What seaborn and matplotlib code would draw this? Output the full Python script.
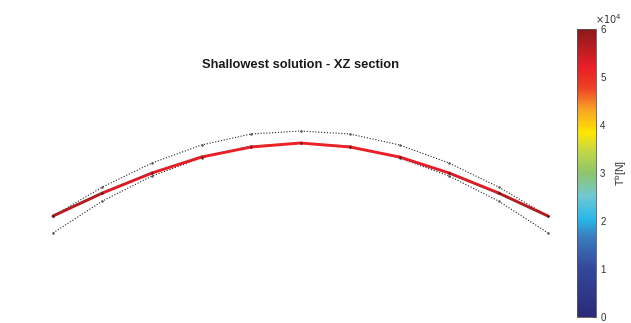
import numpy as np
import pandas as pd
import seaborn as sns
import matplotlib
matplotlib.use("Agg")
import matplotlib.pyplot as plt
from matplotlib.collections import LineCollection
from matplotlib.colors import LinearSegmentedColormap, Normalize

# Node positions along the section (x) and vertical coordinates (z)
x_nodes = [-5, -4, -3, -2, -1, 0, 1, 2, 3, 4, 5]
z_cable = [-1.475, -1.01, -0.606, -0.283, -0.081, 0.0, -0.081, -0.283, -0.606, -1.01, -1.475]
z_upper = [-1.475, -0.889, -0.404, -0.040, 0.182, 0.242, 0.182, -0.040, -0.404, -0.889, -1.475]
z_lower = [-1.818, -1.172, -0.667, -0.303, -0.061, 0.0, -0.061, -0.303, -0.667, -1.172, -1.818]
# Tension per cable segment [N]
tension = [5.65e4, 5.35e4, 5.25e4, 5.2e4, 5.15e4, 5.15e4, 5.2e4, 5.25e4, 5.35e4, 5.65e4]
cbar_ticks = [0, 1e4, 2e4, 3e4, 4e4, 5e4, 6e4]
t_min, t_max = 0.0, 6e4

sns.set_theme(style="white")
plt.rcParams["font.family"] = ["Liberation Sans", "DejaVu Sans"]

cmap = LinearSegmentedColormap.from_list(
    "tension",
    [
        (0.00, "#2a2a78"),
        (0.17, "#34489c"),
        (0.28, "#3a7ec0"),
        (0.34, "#27b8ea"),
        (0.42, "#70c8d3"),
        (0.50, "#8dc56b"),
        (0.58, "#c6d844"),
        (0.64, "#ffe600"),
        (0.72, "#f8a526"),
        (0.80, "#ee3e25"),
        (0.87, "#e91e27"),
        (1.00, "#8b1a1c"),
    ],
)
norm = Normalize(t_min, t_max)

W, H = 631, 323
fig = plt.figure(figsize=(W / 100, H / 100), dpi=100)

# main axes: 1 data unit = 49.5 px; x=-5 at px 53, z=0 at px 143
u = 49.5
left_px, right_px = 53 - 0.3 * u, 548 + 0.3 * u
top_px, bot_px = 80, 300
ax = fig.add_axes([left_px / W, 1 - bot_px / H, (right_px - left_px) / W, (bot_px - top_px) / H])
ax.set_xlim(-5.3, 5.3)
ax.set_ylim(-(bot_px - 143) / u, (143 - top_px) / u)
ax.set_axis_off()

df = pd.DataFrame({"x": x_nodes, "upper": z_upper, "lower": z_lower, "cable": z_cable})

for col in ["upper", "lower"]:
    sns.lineplot(data=df, x="x", y=col, ax=ax, color="#222222", linestyle=(0, (1, 1.6)),
                 linewidth=0.8, marker="o", markersize=1.8, markeredgewidth=0,
                 markerfacecolor="#555555", sort=False)

pts = np.column_stack([x_nodes, z_cable])
segs = np.stack([pts[:-1], pts[1:]], axis=1)
lc = LineCollection(segs, cmap=cmap, norm=norm, linewidths=2.1, capstyle="round", zorder=3)
lc.set_array(np.asarray(tension))
ax.add_collection(lc)
sns.scatterplot(data=df, x="x", y="cable", ax=ax, color="#5a1010", s=3, linewidth=0, zorder=4)
ax.set_xlabel("")
ax.set_ylabel("")

fig.text(300.5 / W, 1 - 65 / H, "Shallowest solution - XZ section", ha="center", va="center",
         fontsize=9.3, fontweight="bold", color="#1a1a1a")

# colorbar
cax = fig.add_axes([577 / W, 1 - 317 / H, 19 / W, 288 / H])
sm = plt.cm.ScalarMappable(cmap=cmap, norm=norm)
cb = fig.colorbar(sm, cax=cax, ticks=cbar_ticks)
cb.outline.set_edgecolor("#555555")
cb.outline.set_linewidth(0.6)
cb.ax.yaxis.set_major_formatter(matplotlib.ticker.FuncFormatter(lambda v, p: f"{v/1e4:g}"))
cb.ax.tick_params(axis="y", direction="in", length=3, width=0.6, color="#333333",
                  labelsize=7, labelcolor="#303030", pad=3, right=True)
cb.ax.text(0.95, 1.012, r"$\times10^{4}$", transform=cb.ax.transAxes, fontsize=7,
           color="#303030", ha="left", va="bottom")
fig.text(621 / W, 1 - 173 / H, r"T$^{\mathrm{b}}$[N]", rotation=90, ha="center", va="center",
         fontsize=7.5, color="#303030")

fig.savefig("out.png", dpi=100)
